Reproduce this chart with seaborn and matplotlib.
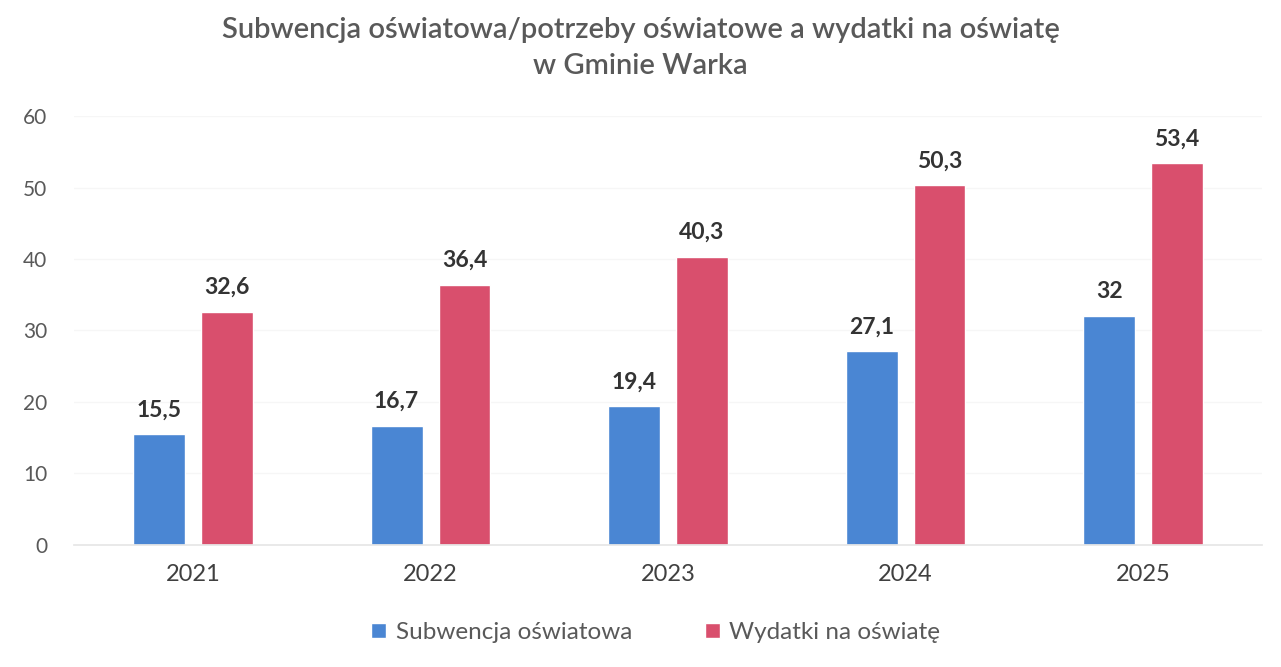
import matplotlib
matplotlib.use("Agg")
import matplotlib.pyplot as plt
import seaborn as sns
import pandas as pd
from matplotlib.patches import Patch

years = ["2021", "2022", "2023", "2024", "2025"]
subwencja = [15.5, 16.7, 19.4, 27.1, 32]
wydatki = [32.6, 36.4, 40.3, 50.3, 53.4]
labels_sub = ["15,5", "16,7", "19,4", "27,1", "32"]
labels_wyd = ["32,6", "36,4", "40,3", "50,3", "53,4"]
series = ["Subwencja oświatowa", "Wydatki na oświatę"]

df = pd.DataFrame({
    "rok": years * 2,
    "wartosc": subwencja + wydatki,
    "seria": [series[0]] * len(years) + [series[1]] * len(years),
})

sns.set_theme(style="white")
plt.rcParams["font.family"] = ["Lato", "DejaVu Sans"]

fig = plt.figure(figsize=(12.81, 6.67), dpi=100)
ax = fig.add_axes([0.058, 0.183, 0.927, 0.643])

colors = ["#4a86d3", "#d94f6d"]
sns.barplot(data=df, x="rok", y="wartosc", hue="seria", palette=colors,
            width=0.572, gap=0.235, ax=ax, legend=False, saturation=1)

for cont, labs in zip(ax.containers, [labels_sub, labels_wyd]):
    ax.bar_label(cont, labels=labs, padding=10, fontsize=16.5, fontweight="bold",
                 color="#333333")

ax.set_ylim(0, 60)
ax.set_xlim(-0.5, 4.5)
ax.set_yticks(range(0, 61, 10))
ax.set_xlabel("")
ax.set_ylabel("")
ax.tick_params(axis="both", length=0, labelsize=15, colors="#595959")
ax.tick_params(axis="x", pad=14, labelsize=17, labelcolor="#404040")
ax.tick_params(axis="y", pad=19.5)
for s in ["top", "right", "left"]:
    ax.spines[s].set_visible(False)
ax.spines["bottom"].set_color("#e6e6e6")
ax.grid(axis="y", color="#f6f6f6", linewidth=1)
ax.set_axisbelow(True)

fig.suptitle("Subwencja oświatowa/potrzeby oświatowe a wydatki na oświatę\nw Gminie Warka",
             y=0.975, fontsize=21, fontweight="semibold", color="#595959", linespacing=1.5)

handles = [Patch(facecolor=c, label=l) for c, l in zip(colors, series)]
fig.legend(handles=handles, loc="center", bbox_to_anchor=(0.512, 0.052), ncol=2,
           frameon=False, fontsize=17.5, handlelength=0.6, handleheight=0.6,
           columnspacing=3.0, handletextpad=0.4, labelcolor="#595959")

fig.savefig("out.png", dpi=100)
